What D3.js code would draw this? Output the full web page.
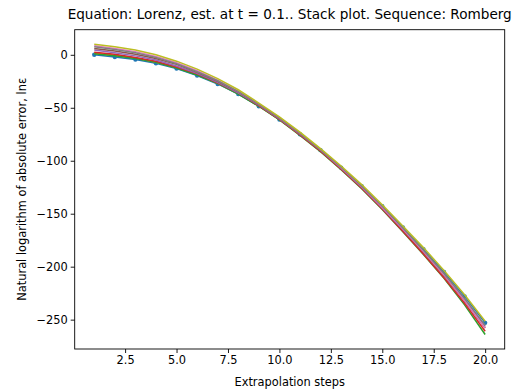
<!DOCTYPE html>
<html>
<head>
<meta charset="utf-8">
<script src="https://cdn.jsdelivr.net/npm/d3@7"></script>
<style>
  body { margin: 0; background: #fff; }
  svg { font-family: "DejaVu Sans", sans-serif; }
</style>
</head>
<body>
<svg width="526" height="392"></svg>
<script>
// Extrapolation steps (x values)
var steps = [1, 2, 3, 4, 5, 6, 7, 8, 9, 10, 11, 12, 13, 14, 15, 16, 17, 18, 19, 20];

// ln of absolute error for each series
var seriesBlue   = [0, -2, -4.5, -8, -13, -19.5, -27.5, -37, -48.5, -61, -75, -90, -106.5, -124, -143, -163, -183.5, -205, -228, -253];
var seriesOrange = [1.5, -0.5, -3, -7, -12, -18.5, -27, -36.5, -48.5, -61, -75.5, -91, -107.5, -125.5, -145, -165.5, -186.5, -208.5, -232, -258];
var seriesGreen  = [1, -1, -3.5, -7, -12.5, -19, -27, -37, -48.5, -61.5, -76, -91.5, -108.5, -126.5, -146, -167, -188.5, -211, -236, -264];
var seriesRed    = [2.5, 0.5, -2.5, -6, -11.5, -18, -26.5, -36, -48, -61, -75.5, -91, -108, -126, -145.5, -166.5, -188, -210.5, -234.5, -261];
var seriesPurple = [4.5, 2, -1, -5, -10.5, -17.5, -26, -36, -47.5, -60.5, -75, -90, -107, -125, -144.5, -165, -186, -208, -232, -258];
var seriesBrown  = [6, 3.5, 0.5, -3.5, -9, -16.5, -25, -35, -47, -60, -74.5, -90, -106.5, -124.5, -144, -164.5, -185.5, -207.5, -231, -256.5];
var seriesPink   = [8.5, 6, 3, -1.5, -7.5, -15, -24, -34.5, -46.5, -59.5, -74, -89.5, -106.5, -124.5, -144, -164.5, -185.5, -207.5, -231.5, -257.5];
var seriesGray   = [7.5, 5, 2, -2.5, -8.5, -16, -24.5, -34.5, -46.5, -59.5, -74, -89.5, -106, -124, -143, -163.5, -184.5, -206.5, -230, -255.5];
var seriesOlive  = [10, 7.5, 4.5, 0, -6, -13.5, -22.5, -33, -45.5, -58.5, -73, -88.5, -105, -122.5, -141.5, -161.5, -182, -203.5, -226.5, -251.5];

var allSeries = [
    {values: seriesBlue, color: '#1f77b4', dots: true},
    {values: seriesOrange, color: '#ff7f0e'},
    {values: seriesGreen, color: '#2ca02c'},
    {values: seriesRed, color: '#d62728'},
    {values: seriesPurple, color: '#9467bd'},
    {values: seriesBrown, color: '#8c564b'},
    {values: seriesPink, color: '#e377c2'},
    {values: seriesGray, color: '#7f7f7f'},
    {values: seriesOlive, color: '#bcbd22'}
];

var xTicks = [2.5, 5, 7.5, 10, 12.5, 15, 17.5, 20];
var yTicks = [0, -50, -100, -150, -200, -250];

var svg = d3.select('svg');

// Axes box in pixels
var box = {l: 74.7, r: 504.7, t: 29.7, b: 349};

// matplotlib style 5% margins around data
var xMin = d3.min(steps), xMax = d3.max(steps);
var xPad = (xMax - xMin) * 0.05;
var yMin = d3.min(allSeries, function(s) { return d3.min(s.values); });
var yMax = d3.max(allSeries, function(s) { return d3.max(s.values); });
var yPad = (yMax - yMin) * 0.05;

var x = d3.scaleLinear().domain([xMin - xPad, xMax + xPad]).range([box.l, box.r]);
var y = d3.scaleLinear().domain([yMin - yPad, yMax + yPad]).range([box.b, box.t]);

var minus = function(v) { return String(v).replace('-', '\u2212'); };

var xAxis = d3.axisBottom(x).tickValues(xTicks).tickSize(4).tickPadding(3)
    .tickFormat(function(d) { return minus(d.toFixed(1)); });
var yAxis = d3.axisLeft(y).tickValues(yTicks).tickSize(4).tickPadding(3)
    .tickFormat(function(d) { return minus(d); });

svg.append('g')
    .attr('transform', 'translate(0,' + box.b + ')')
    .call(xAxis);
svg.append('g')
    .attr('transform', 'translate(' + box.l + ',0)')
    .call(yAxis);

svg.selectAll('.tick text').attr('font-size', '11.4px').attr('fill', '#000')
    .attr('font-family', '"DejaVu Sans", sans-serif');
svg.selectAll('.tick line').attr('stroke', '#000').attr('stroke-width', 0.9);
svg.selectAll('.domain').remove();

// lines
var line = d3.line()
    .x(function(d, i) { return x(steps[i]); })
    .y(function(d) { return y(d); });

var plotG = svg.append('g');

allSeries.forEach(function(s) {
    plotG.append('path')
        .attr('d', line(s.values))
        .attr('fill', 'none')
        .attr('stroke', s.color)
        .attr('stroke-width', 1.5);
    if (s.dots) {
        plotG.selectAll(null).data(s.values).enter().append('circle')
            .attr('cx', function(d, i) { return x(steps[i]); })
            .attr('cy', function(d) { return y(d); })
            .attr('r', 2.2)
            .attr('fill', s.color);
    }
});

// frame
svg.append('rect')
    .attr('x', box.l).attr('y', box.t)
    .attr('width', box.r - box.l).attr('height', box.b - box.t)
    .attr('fill', 'none')
    .attr('stroke', '#000')
    .attr('stroke-width', 0.9);

// title and axis labels
svg.append('text')
    .attr('x', (box.l + box.r) / 2)
    .attr('y', 19)
    .attr('text-anchor', 'middle')
    .attr('font-size', '13.6px')
    .text('Equation: Lorenz, est. at t = 0.1.. Stack plot. Sequence: Romberg');

svg.append('text')
    .attr('x', (box.l + box.r) / 2)
    .attr('y', 386)
    .attr('text-anchor', 'middle')
    .attr('font-size', '11.4px')
    .text('Extrapolation steps');

svg.append('text')
    .attr('transform', 'translate(26,' + (box.t + box.b) / 2 + ') rotate(-90)')
    .attr('text-anchor', 'middle')
    .attr('font-size', '11.4px')
    .text('Natural logarithm of absolute error, ln\u03b5');
</script>
</body>
</html>
